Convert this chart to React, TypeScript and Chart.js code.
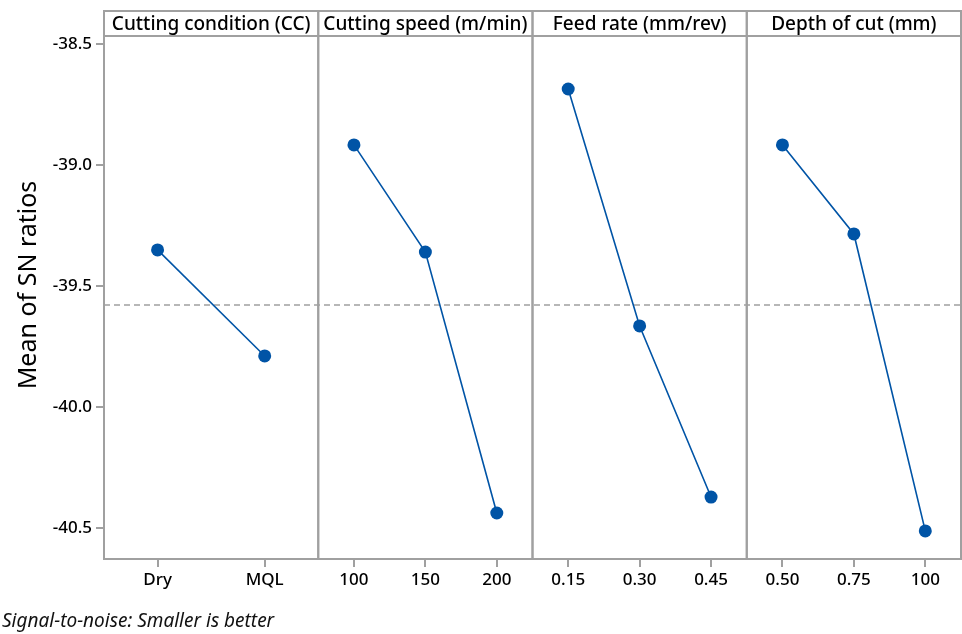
import React, { useEffect, useRef } from "react";
import { Chart, registerables } from "chart.js";

Chart.register(...registerables);

const panelTitles = ["Cutting condition (CC)", "Cutting speed (m/min)", "Feed rate (mm/rev)", "Depth of cut (mm)"];
const ccLevels = ["Dry", "MQL"];
const speedLevels = ["100", "150", "200"];
const feedLevels = ["0.15", "0.30", "0.45"];
const depthLevels = ["0.50", "0.75", "100"];
const ccMeans = [-39.351, -39.789];
const speedMeans = [-38.917, -39.36, -40.438];
const feedMeans = [-38.686, -39.665, -40.372];
const depthMeans = [-38.917, -39.285, -40.512];
const overallMean = -39.578;
const yTicks = [-38.5, -39.0, -39.5, -40.0, -40.5];
const yMin = -40.628;
const yMax = -38.467;
const yTitle = "Mean of SN ratios";
const footnote = "Signal-to-noise: Smaller is better";

const FONT = "'Noto Sans', 'Open Sans', sans-serif";
const FRAME = "#a0a0a0";
const BLUE = "#0054a6";
const TEXT = "#000";
const HEADER_H = 25;

const levelSets = [ccLevels, speedLevels, feedLevels, depthLevels];
const meanSets = [ccMeans, speedMeans, feedMeans, depthMeans];

export default function App() {
  const ref = useRef<HTMLCanvasElement | null>(null);
  useEffect(() => {
    if (!ref.current) return;
    const xIds = levelSets.map((_, i) => "x" + i);
    const scales: any = {};
    levelSets.forEach((labels, i) => {
      scales[xIds[i]] = {
        type: "category",
        labels,
        position: "bottom",
        stack: "panels",
        stackWeight: 1,
        offset: true,
        border: { display: false },
        grid: { display: true, drawOnChartArea: false, drawTicks: true, tickLength: 8, color: FRAME, lineWidth: 2 },
        ticks: { color: TEXT, font: { family: FONT, size: 17, weight: "500" }, padding: 3, maxRotation: 0 },
        afterFit: (s: any) => { s.height = 44; s.paddingLeft = 0; s.paddingRight = 0; },
      };
    });
    scales.y = {
      type: "linear",
      position: "left",
      min: yMin,
      max: yMax,
      border: { display: false },
      grid: { display: true, drawOnChartArea: false, drawTicks: true, tickLength: 8, color: FRAME, lineWidth: 2 },
      afterBuildTicks: (axis: any) => { axis.ticks = yTicks.map((v) => ({ value: v })); },
      ticks: {
        color: TEXT,
        font: { family: FONT, size: 17, weight: "500" },
        padding: 4,
        callback: (v: any) => Number(v).toFixed(1),
      },
      title: { display: false, text: yTitle },
      afterFit: (s: any) => { s.width = 104; s.paddingTop = 0; s.paddingBottom = 0; },
    };

    const framePlugin = {
      id: "frames",
      beforeDatasetsDraw(chart: any) {
        const { ctx, chartArea } = chart;
        const y = chart.scales.y.getPixelForValue(overallMean);
        ctx.save();
        ctx.strokeStyle = FRAME;
        ctx.lineWidth = 1.5;
        ctx.setLineDash([6, 4]);
        ctx.beginPath();
        ctx.moveTo(chartArea.left, y);
        ctx.lineTo(chartArea.right, y);
        ctx.stroke();
        ctx.restore();
      },
      afterDraw(chart: any) {
        const { ctx, chartArea } = chart;
        const top = chartArea.top - HEADER_H;
        ctx.save();
        ctx.strokeStyle = FRAME;
        ctx.lineWidth = 2;
        xIds.forEach((id) => {
          const s = chart.scales[id];
          ctx.strokeRect(s.left, top, s.right - s.left, chartArea.bottom - top);
        });
        ctx.beginPath();
        ctx.moveTo(chartArea.left, chartArea.top);
        ctx.lineTo(chartArea.right, chartArea.top);
        ctx.stroke();
        ctx.fillStyle = TEXT;
        ctx.font = `500 19px ${FONT}`;
        ctx.textAlign = "center";
        ctx.textBaseline = "middle";
        xIds.forEach((id, i) => {
          const s = chart.scales[id];
          ctx.fillText(panelTitles[i], (s.left + s.right) / 2, top + HEADER_H / 2 + 1);
        });
        // y axis title, centred on the framed area including the header strip
        ctx.save();
        ctx.translate(29, (top + chartArea.bottom) / 2);
        ctx.rotate(-Math.PI / 2);
        ctx.font = `25px ${FONT}`;
        ctx.fillText(yTitle, 0, 0);
        ctx.restore();
        ctx.font = `italic 19px ${FONT}`;
        ctx.textAlign = "left";
        ctx.fillStyle = "#111";
        ctx.fillText(footnote, 2, chart.height - 12);
        ctx.restore();
      },
    };

    const chart = new Chart(ref.current, {
      type: "line",
      data: {
        datasets: meanSets.map((vals, i) => ({
          data: vals,
          xAxisID: xIds[i],
          yAxisID: "y",
          borderColor: BLUE,
          backgroundColor: BLUE,
          borderWidth: 1.6,
          pointRadius: 6.5,
          pointBackgroundColor: BLUE,
          pointBorderColor: BLUE,
          pointBorderWidth: 0,
          tension: 0,
          clip: false as any,
        })),
      },
      options: {
        animation: false,
        responsive: true,
        maintainAspectRatio: false,
        layout: { autoPadding: false, padding: { top: 36, right: 1, left: 0, bottom: 31 } },
        plugins: { legend: { display: false }, tooltip: { enabled: false }, title: { display: false } },
        scales,
      },
      plugins: [framePlugin],
    });
    return () => chart.destroy();
  }, []);
  return (
    <div style={{ position: "absolute", left: 0, top: 0, width: 962, height: 634 }}>
      <canvas ref={ref} />
    </div>
  );
}
